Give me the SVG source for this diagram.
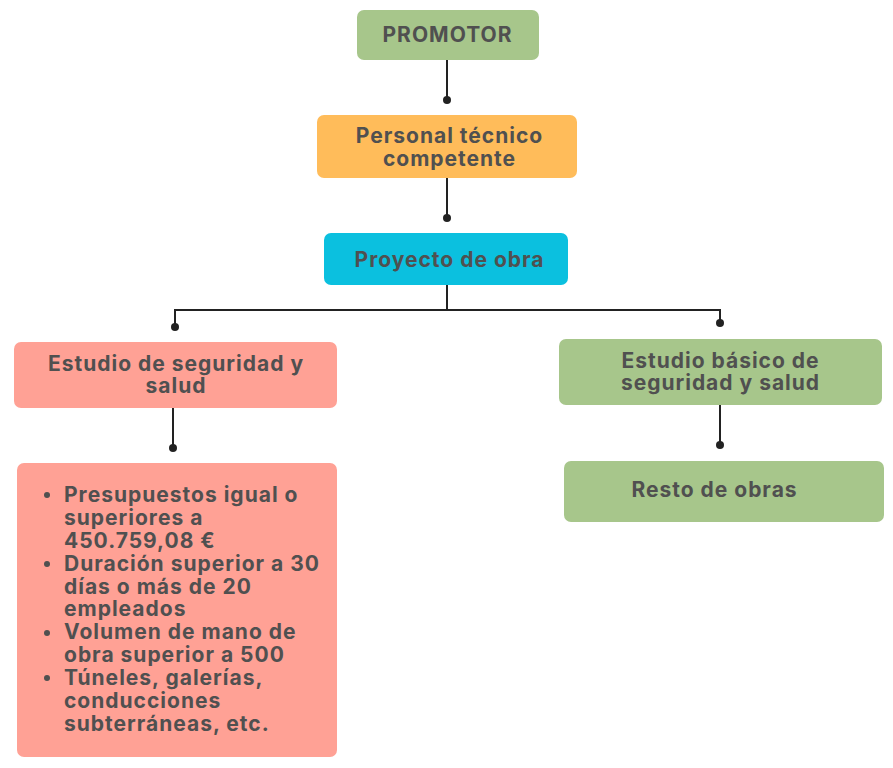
<svg xmlns="http://www.w3.org/2000/svg" width="893" height="768" viewBox="0 0 893 768">
<style>
.t{font-family:Inter,"Liberation Sans",sans-serif;font-weight:700;font-size:21px;letter-spacing:1px;fill:#505050}
.c{text-anchor:middle}
.ln{stroke:#222;stroke-width:2;fill:none}
.dot{fill:#222}
</style>
<rect width="893" height="768" fill="#fff"/>
<g id="connectors">
<path class="ln" d="M447 60V100"/><circle class="dot" cx="447" cy="100" r="4"/>
<path class="ln" d="M447 178V218"/><circle class="dot" cx="447" cy="218" r="4"/>
<path class="ln" d="M447 285V310M175 326V310H720V323"/>
<circle class="dot" cx="175" cy="327" r="4"/><circle class="dot" cx="720" cy="323" r="4"/>
<path class="ln" d="M173 408V448"/><circle class="dot" cx="173" cy="448" r="4"/>
<path class="ln" d="M720 405V445"/><circle class="dot" cx="720" cy="445" r="4"/>
</g>
<g id="promotor">
<rect x="357" y="10" width="182" height="50" rx="7" fill="#A7C68B"/>
<text class="t c" x="447.5" y="42">PROMOTOR</text>
</g>
<g id="personal">
<rect x="317" y="115" width="260" height="63" rx="7" fill="#FFBC5A"/>
<text class="t c" x="449.5" y="143">Personal técnico</text>
<text class="t c" x="449.5" y="166">competente</text>
</g>
<g id="proyecto">
<rect x="324" y="233" width="244" height="52" rx="7" fill="#0BC0DF"/>
<text class="t c" x="449.5" y="267">Proyecto de obra</text>
</g>
<g id="estudio">
<rect x="14" y="342" width="323" height="66" rx="7" fill="#FFA195"/>
<text class="t c" x="176" y="371">Estudio de seguridad y</text>
<text class="t c" x="176" y="393">salud</text>
</g>
<g id="estudio-basico">
<rect x="559" y="339" width="323" height="66" rx="7" fill="#A7C68B"/>
<text class="t c" x="720.5" y="368">Estudio básico de</text>
<text class="t c" x="720.5" y="390">seguridad y salud</text>
</g>
<g id="resto">
<rect x="564" y="461" width="320" height="61" rx="7" fill="#A7C68B"/>
<text class="t c" x="714.5" y="497">Resto de obras</text>
</g>
<g id="requisitos">
<rect x="17" y="463" width="320" height="294" rx="7" fill="#FFA195"/>
<g fill="#505050">
<circle cx="47" cy="495" r="3"/>
<circle cx="47" cy="564" r="3"/>
<circle cx="47" cy="633" r="3"/>
<circle cx="47" cy="678" r="3"/>
</g>
<text class="t" x="64" y="502">Presupuestos igual o</text>
<text class="t" x="64" y="525">superiores a</text>
<text class="t" x="64" y="548">450.759,08 €</text>
<text class="t" x="64" y="571">Duración superior a 30</text>
<text class="t" x="64" y="594">días o más de 20</text>
<text class="t" x="64" y="616">empleados</text>
<text class="t" x="64" y="639">Volumen de mano de</text>
<text class="t" x="64" y="662">obra superior a 500</text>
<text class="t" x="64" y="685">Túneles, galerías,</text>
<text class="t" x="64" y="708">conducciones</text>
<text class="t" x="64" y="731">subterráneas, etc.</text>
</g>
</svg>
